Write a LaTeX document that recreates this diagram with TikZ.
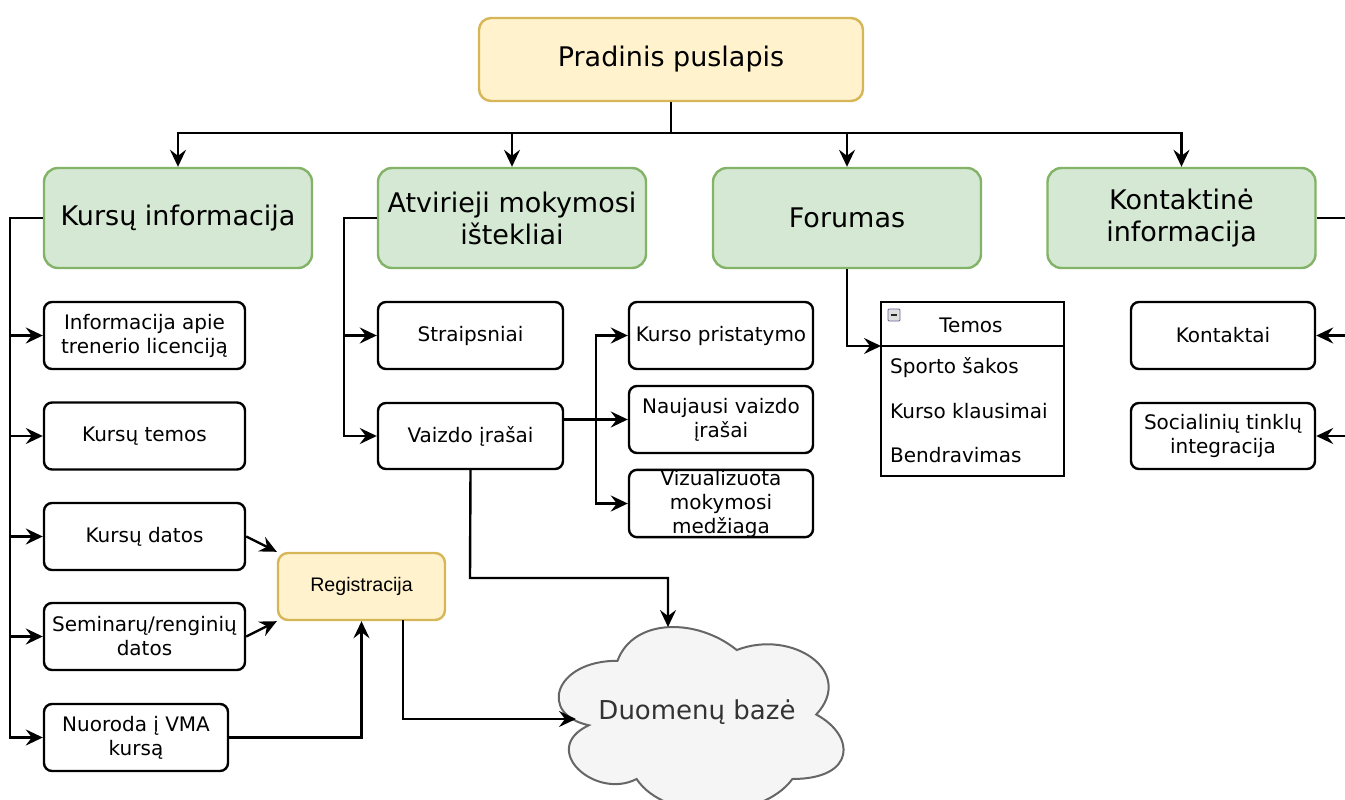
\documentclass[tikz,border=0pt]{standalone}
\usepackage{fontspec}
\setmainfont{DejaVu Sans}
\newfontfamily\helv{Liberation Sans}
\usetikzlibrary{arrows.meta,calc}
\definecolor{yfill}{HTML}{FFF2CC}
\definecolor{ydraw}{HTML}{D6B656}
\definecolor{gfill}{HTML}{D5E8D4}
\definecolor{gdraw}{HTML}{82B366}
\definecolor{cfill}{HTML}{F5F5F5}
\definecolor{cdraw}{HTML}{666666}
\definecolor{ctext}{HTML}{333333}
\tikzset{
  smallbox/.style={draw=black, line width=2.4pt, rounded corners=8pt, fill=white,
    minimum width=201pt, minimum height=67pt, inner sep=0pt, align=center,
    font=\fontsize{20}{24}\selectfont},
  headbox/.style={draw=gdraw, fill=gfill, line width=2.4pt, rounded corners=14pt,
    minimum width=268pt, minimum height=100pt, inner sep=0pt, align=center,
    font=\fontsize{27}{32}\selectfont},
  arr/.style={line width=2.4pt, -{Stealth[length=17pt,width=16pt,inset=6pt]}},
  ln/.style={line width=2.4pt},
  itemtext/.style={inner sep=0pt, anchor=west, font=\fontsize{20}{24}\selectfont},
}
\begin{document}
\begin{tikzpicture}[x=1pt,y=-1pt]
\useasboundingbox (0,0) rectangle (1345,800);

% top node
\node[draw=ydraw, fill=yfill, line width=2.4pt, rounded corners=12pt,
  minimum width=384pt, minimum height=83pt, font=\fontsize{27}{32}\selectfont]
  (pp) at (671,59.5) {Pradinis puslapis};

% headers
\node[headbox] (k1) at (178,218) {Kursų informacija};
\node[headbox] (k2) at (512,218) {Atvirieji mokymosi\\ištekliai};
\node[headbox] (k3) at (847,218) {Forumas};
\node[headbox] (k4) at (1181.5,218) {Kontaktinė\\informacija};

\coordinate (bus) at (671,133);
\draw[arr] (pp.south) -- (bus) -| (k1.north);
\draw[arr] (bus) -| (k2.north);
\draw[arr] (bus) -| (k3.north);
\draw[arr] (bus) -| (k4.north);

% left column
\node[smallbox] (a1) at (144.5,335.5) {Informacija apie\\trenerio licenciją};
\node[smallbox] (a2) at (144.5,436) {Kursų temos};
\node[smallbox] (a3) at (144.5,536.5) {Kursų datos};
\node[smallbox] (a4) at (144.5,636.5) {Seminarų/renginių\\datos};
\node[smallbox, minimum width=184pt] (a5) at (136,737.5) {Nuoroda į VMA\\kursą};

\foreach \t in {a1,a2,a3,a4,a5}{
  \draw[arr] (k1.west) -- ++(-33,0) |- (\t.west);
}

% Registracija
\node[draw=ydraw, fill=yfill, line width=2.4pt, rounded corners=10pt,
  minimum width=167pt, minimum height=67pt, font=\helv\fontsize{19.6}{23}\selectfont]
  (reg) at (361.5,586.5) {Registracija};

\draw[arr] (a3.east) -- (reg.north west);
\draw[arr] (a4.east) -- (reg.south west);
\draw[arr] (a5.east) -| (reg.south);

% middle column
\node[smallbox, minimum width=185pt] (b1) at (470.5,335.5) {Straipsniai};
\node[smallbox, minimum width=185pt, minimum height=66pt] (b2) at (470.5,436) {Vaizdo įrašai};
\foreach \t in {b1,b2}{
  \draw[arr] (k2.west) -- ++(-33,0) |- (\t.west);
}

\node[smallbox, minimum width=184pt] (c1) at (721,335.5) {Kurso pristatymo};
\node[smallbox, minimum width=184pt] (c2) at (721,419.5) {Naujausi vaizdo\\įrašai};
\node[smallbox, minimum width=184pt] (c3) at (721,503.5) {Vizualizuota\\mokymosi\\medžiaga};

\coordinate (vj) at (596,419.5);
\draw[arr] (b2.east |- c2.west) -- (c2.west);
\draw[arr] (vj) |- (c1.west);
\draw[arr] (vj) |- (c3.west);

% cloud
\draw[draw=cdraw, fill=cfill, line width=2pt]
  (617.5,660.75)
  .. controls (553.9,660.75) and (538,714.5) .. (588.88,725.25)
  .. controls (538,748.9) and (595.24,800.5) .. (636.58,779)
  .. controls (665.2,822) and (760.6,822) .. (792.4,779)
  .. controls (856,779) and (856,736) .. (816.25,714.5)
  .. controls (856,671.5) and (792.4,628.5) .. (736.75,650)
  .. controls (697,617.75) and (633.4,617.75) .. (617.5,660.75) -- cycle;
\node[text=ctext, font=\fontsize{26}{30}\selectfont, inner sep=0pt] (db) at (697,712) {Duomenų bazė};
\coordinate (dbtop) at (668,627);
\coordinate (dbleft) at (576,719);

\coordinate (vbend) at (470,578);
\draw[arr] (b2.south) -- (vbend) -| (dbtop);
\coordinate (regout) at (403,620);
\draw[arr] (regout) |- (dbleft);

% Forumas / Temos
\node[draw=black, line width=2.4pt, minimum width=183pt, minimum height=174pt, inner sep=0pt]
  (tb) at (972.5,389) {};
\coordinate (tbl) at (881,346);
\coordinate (tbr) at (1064,346);
\draw[ln] (tbl) -- (tbr);
\node[inner sep=0pt, font=\fontsize{20}{24}\selectfont] (tt) at (971,325) {Temos};
\node[draw=gray!80!blue, fill=gray!25, line width=0.8pt, minimum size=12pt, inner sep=0pt,
  rounded corners=1pt] (ic) at (894,315) {};
\draw[line width=1.6pt, gray!30!black] ($(ic.west)+(3,0)$) -- ($(ic.east)+(-3,0)$);
\node[itemtext] (t1) at (890,368) {Sporto šakos};
\node[itemtext] (t2) at (890,411) {Kurso klausimai};
\node[itemtext] (t3) at (890,455) {Bendravimas};
\draw[arr] (k3.south) |- (tbl);

% right column
\node[smallbox, minimum width=184pt] (d1) at (1223,335.5) {Kontaktai};
\node[smallbox, minimum width=184pt, minimum height=66pt] (d2) at (1223,436) {Socialinių tinklų\\integracija};
\draw[ln] (k4.east) -- ++(45,0);
\draw[arr] ($(k4.east)+(45,0)$) |- (d1.east);
\draw[arr] ($(k4.east)+(45,0)$) |- (d2.east);
\end{tikzpicture}
\end{document}
